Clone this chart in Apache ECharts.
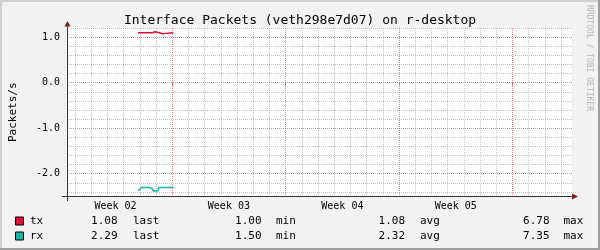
<!DOCTYPE html>
<html><head><meta charset="utf-8">
<script src="https://cdn.jsdelivr.net/npm/echarts@6/dist/echarts.min.js"></script>
<style>html,body{margin:0;padding:0;background:#f2f2f2}#c{width:600px;height:250px}</style>
</head><body><div id="c"></div>
<script>
// ---- data ----
const chartTitle = 'Interface Packets (veth298e7d07) on r-desktop';
const yAxisName = 'Packets/s';
const watermark = 'RRDTOOL / TOBI OETIKER';
const seriesNames = ['tx', 'rx'];
const txDays = [3.89, 4.78, 4.80, 4.94, 4.96, 5.21, 5.23, 5.41, 5.43, 6.07];
const txValues = [1.095, 1.095, 1.117, 1.117, 1.095, 1.095, 1.073, 1.073, 1.095, 1.095];
const rxDays = [3.89, 4.01, 4.14, 4.57, 4.63, 4.80, 4.83, 5.12, 5.17, 6.07];
const rxValues = [-2.37, -2.37, -2.30, -2.30, -2.335, -2.335, -2.38, -2.38, -2.30, -2.30];
const yMajorTicks = [1, 0, -1, -2];
const yTickLabels = ['1.0', '0.0', '-1.0', '-2.0'];
const yMinorTicks = [1.2, 0.8, 0.6, 0.4, 0.2, -0.2, -0.4, -0.6, -0.8, -1.2, -1.4, -1.6, -1.8, -2.2, -2.4];
const dayTicks = [0, 1, 2, 3, 4, 5, 7, 8, 9, 10, 11, 12, 14, 15, 16, 17, 18, 19, 21, 22, 23, 24, 25, 26, 28, 29, 30];
const weekStartDays = [6, 13, 20, 27];
const weekLabelDays = [2.5, 9.5, 16.5, 23.5];
const weekLabels = ['Week 02', 'Week 03', 'Week 04', 'Week 05'];
const statLabels = ['last', 'min', 'avg', 'max'];
const lastValues = ['1.08', '2.29'];
const minValues = ['1.00', '1.50'];
const avgValues = ['1.08', '2.32'];
const maxValues = ['6.78', '7.35'];
const X_MIN = -0.49, X_MAX = 30.67, Y_MIN = -2.5, Y_MAX = 1.2;

// ---- styles ----
const colors = ['#d6123c', '#1fb2a6'];
const mono = '"DejaVu Sans Mono", monospace';
const minorLine = { color: 'rgba(143,143,143,0.55)', width: 1, type: [1, 1] };
const majorLine = { color: 'rgba(222,79,79,0.7)', width: 1, type: [1, 1] };

const chart = echarts.init(document.getElementById('c'), null, { renderer: 'canvas' });

const G = { left: 67, top: 28, width: 505, height: 168.5 };

const graphic = [];
// frame shading
graphic.push({ type: 'rect', shape: { x: 0, y: 0, width: 600, height: 2 }, style: { fill: '#cfcfcf' }, silent: true });
graphic.push({ type: 'rect', shape: { x: 0, y: 0, width: 2, height: 250 }, style: { fill: '#cfcfcf' }, silent: true });
graphic.push({ type: 'rect', shape: { x: 598, y: 0, width: 2, height: 250 }, style: { fill: '#9e9e9e' }, silent: true });
graphic.push({ type: 'rect', shape: { x: 0, y: 248, width: 600, height: 2 }, style: { fill: '#9e9e9e' }, silent: true });
// axes with arrows
graphic.push({ type: 'line', z: 100, shape: { x1: 62, y1: 196.5, x2: 574, y2: 196.5 }, style: { stroke: '#333', lineWidth: 1 }, silent: true });
graphic.push({ type: 'line', z: 100, shape: { x1: 67.5, y1: 201, x2: 67.5, y2: 25 }, style: { stroke: '#333', lineWidth: 1 }, silent: true });
graphic.push({ type: 'polygon', z: 101, shape: { points: [[572, 193.5], [578, 196.5], [572, 199.5]] }, style: { fill: '#801f1f' }, silent: true });
graphic.push({ type: 'polygon', z: 101, shape: { points: [[64.5, 26.5], [67.5, 21], [70.5, 26.5]] }, style: { fill: '#801f1f' }, silent: true });
// watermark
graphic.push({ type: 'text', x: 589, y: 5, rotation: -Math.PI / 2, style: { text: watermark, font: '8px ' + mono, fill: '#b4b4b4', align: 'left', verticalAlign: 'middle' }, silent: true });
// legend
const statCols = [lastValues, minValues, avgValues, maxValues];
const valRight = [117.5, 261.5, 405, 549.5];
const labLeft = [133, 276, 420, 563.5];
seriesNames.forEach((n, i) => {
  const cy = 221.5 + i * 15;
  graphic.push({ type: 'rect', shape: { x: 15.5, y: cy - 4.5, width: 8, height: 8 }, style: { fill: colors[i], stroke: '#000', lineWidth: 1 }, silent: true });
  graphic.push({ type: 'text', x: 30, y: cy, style: { text: n, font: '11px ' + mono, fill: '#000', align: 'left', verticalAlign: 'middle' }, silent: true });
  statCols.forEach((col, k) => {
    graphic.push({ type: 'text', x: valRight[k], y: cy, style: { text: col[i], font: '11px ' + mono, fill: '#000', align: 'right', verticalAlign: 'middle' }, silent: true });
    graphic.push({ type: 'text', x: labLeft[k], y: cy, style: { text: statLabels[k], font: '11px ' + mono, fill: '#000', align: 'left', verticalAlign: 'middle' }, silent: true });
  });
});

const option = {
  backgroundColor: '#f2f2f2',
  animation: false,
  title: { text: chartTitle, left: 'center', top: 9, textStyle: { fontFamily: mono, fontSize: 13, fontWeight: 'normal', color: '#000' } },
  grid: Object.assign({ backgroundColor: '#fff', show: true, borderWidth: 0, containLabel: false, outerBoundsMode: 'none' }, G),
  xAxis: [
    { type: 'value', min: X_MIN, max: X_MAX, position: 'bottom', axisLine: { show: false }, axisLabel: { show: false },
      axisTick: { show: false, customValues: dayTicks }, splitLine: { show: true, lineStyle: minorLine } },
    { type: 'value', min: X_MIN, max: X_MAX, position: 'bottom', axisLine: { show: false },
      axisTick: { show: true, customValues: weekStartDays, length: 3, lineStyle: { color: 'rgba(222,79,79,0.8)' } },
      axisLabel: { show: true, customValues: weekLabelDays, margin: 5, fontFamily: mono, fontSize: 10, color: '#000',
        formatter: v => weekLabels[weekLabelDays.indexOf(v)] },
      splitLine: { show: true, lineStyle: majorLine } }
  ],
  yAxis: [
    { type: 'value', min: Y_MIN, max: Y_MAX, position: 'left', axisLine: { show: false }, axisLabel: { show: false },
      axisTick: { show: false, customValues: yMinorTicks }, splitLine: { show: true, lineStyle: minorLine } },
    { type: 'value', min: Y_MIN, max: Y_MAX, position: 'left', axisLine: { show: false },
      name: yAxisName, nameLocation: 'middle', nameGap: 48, nameRotate: 90,
      nameTextStyle: { fontFamily: mono, fontSize: 11, color: '#000' },
      axisTick: { show: false, customValues: yMajorTicks },
      axisLabel: { show: true, customValues: yMajorTicks, margin: 7, fontFamily: mono, fontSize: 10, color: '#000',
        formatter: v => yTickLabels[yMajorTicks.indexOf(v)] },
      splitLine: { show: true, lineStyle: majorLine } }
  ],
  series: [
    { name: seriesNames[0], type: 'line', xAxisIndex: 0, yAxisIndex: 0, data: txDays.map((d, i) => [d, txValues[i]]),
      symbol: 'none', lineStyle: { color: colors[0], width: 1.5 }, itemStyle: { color: colors[0] }, z: 5 },
    { name: seriesNames[1], type: 'line', xAxisIndex: 0, yAxisIndex: 0, data: rxDays.map((d, i) => [d, rxValues[i]]),
      symbol: 'none', lineStyle: { color: colors[1], width: 1.5 }, itemStyle: { color: colors[1] }, z: 5 }
  ],
  graphic: graphic
};
chart.setOption(option);
</script></body></html>
